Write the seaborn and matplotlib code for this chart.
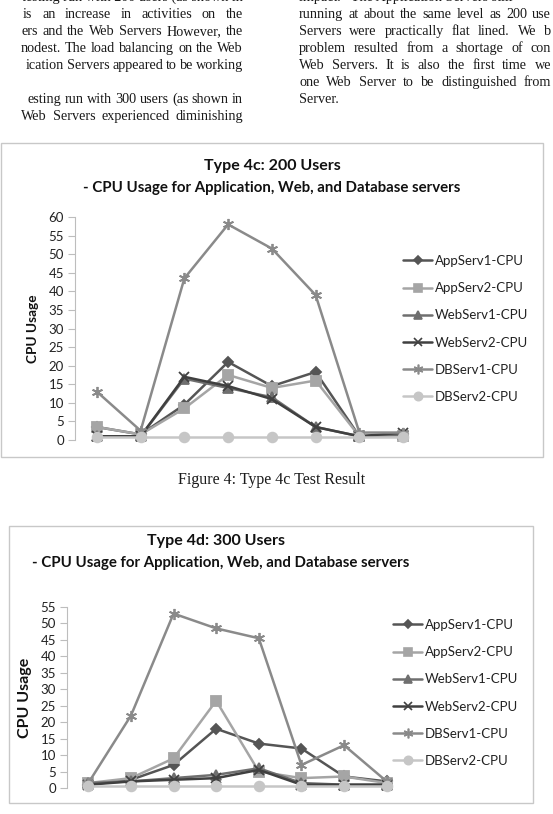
import pandas as pd
import matplotlib
matplotlib.use("Agg")
import matplotlib.pyplot as plt
from matplotlib.patches import Rectangle
import seaborn as sns

# ---- data ----
servers = ["AppServ1-CPU", "AppServ2-CPU", "WebServ1-CPU",
           "WebServ2-CPU", "DBServ1-CPU", "DBServ2-CPU"]
steps = [1, 2, 3, 4, 5, 6, 7, 8]

# Type 4c: 200 users
app1_200 = [3.5, 1.5, 9.5, 21.0, 14.5, 18.3, 1.0, 1.5]
app2_200 = [3.5, 1.5, 8.5, 17.5, 14.0, 16.0, 1.0, 1.0]
web1_200 = [1.0, 1.0, 16.5, 14.0, 11.5, 3.5, 1.0, 1.5]
web2_200 = [1.0, 1.0, 17.0, 14.5, 11.0, 3.5, 1.0, 2.0]
db1_200 = [13.0, 2.5, 43.5, 58.0, 51.5, 39.0, 2.0, 2.0]
db2_200 = [0.7, 0.7, 0.7, 0.7, 0.7, 0.7, 0.7, 0.7]

# Type 4d: 300 users
app1_300 = [1.0, 2.5, 7.0, 18.0, 13.5, 12.0, 3.5, 2.0]
app2_300 = [1.5, 3.0, 9.0, 26.5, 5.0, 3.0, 3.5, 1.5]
web1_300 = [1.5, 2.0, 3.0, 4.0, 6.0, 1.5, 1.0, 1.0]
web2_300 = [1.0, 2.0, 2.5, 3.0, 5.5, 1.0, 1.0, 1.0]
db1_300 = [1.5, 22.0, 53.0, 48.5, 45.5, 7.0, 13.0, 2.0]
db2_300 = [0.5, 0.5, 0.5, 0.5, 0.5, 0.5, 0.5, 0.5]

# page text around the charts (line text, left edge for justified lines)
left_top = "testing run with 200 users (as shown in"
left_lines = [("is an increase in activities on the", 23),
              ("ers and the Web Servers However, the", 21),
              ("nodest. The load balancing on the Web", 21),
              ("ication Servers appeared to be working", 28),
              (None, 0),
              ("esting run with 300 users (as shown in", 28),
              ("Web Servers experienced diminishing", 21)]
right_top = "impact.   The Application Servers still"
right_lines = [("running at about the same level as 200 use", True),
               ("Servers were practically flat lined. We b", True),
               ("problem resulted from a shortage of con", True),
               ("Web Servers. It is also the first time we", True),
               ("one Web Server to be distinguished from", True),
               ("Server.", False)]

palette = {"AppServ1-CPU": "#555555", "AppServ2-CPU": "#a5a5a5",
           "WebServ1-CPU": "#6f6f6f", "WebServ2-CPU": "#404040",
           "DBServ1-CPU": "#8a8a8a", "DBServ2-CPU": "#c6c6c6"}
markers = {"AppServ1-CPU": "D", "AppServ2-CPU": "s", "WebServ1-CPU": "^",
           "WebServ2-CPU": "x", "DBServ1-CPU": (6, 2, 0), "DBServ2-CPU": "o"}
msizes = {"AppServ1-CPU": 5, "AppServ2-CPU": 7, "WebServ1-CPU": 7,
          "WebServ2-CPU": 7, "DBServ1-CPU": 8, "DBServ2-CPU": 7}

W, H = 553, 814
BODY = dict(fontsize=10.2, family="Liberation Serif", color="#1a1a1a")
LINE0, LEAD = -3, 17.1


def fx(x):
    return x / W


def fy(y):
    return 1 - y / H


def long_frame(series):
    rows = []
    for name, vals in zip(servers, series):
        for s, v in zip(steps, vals):
            rows.append({"step": s, "server": name, "cpu": v})
    return pd.DataFrame(rows)


def justify(fig, renderer, text, x_left, x_right, y):
    """Spread the words of one line between x_left and x_right (pixels)."""
    words = text.split()
    items = [fig.text(0, fy(y), w, ha="left", va="center", **BODY) for w in words]
    widths = [t.get_window_extent(renderer).width for t in items]
    gap = (x_right - x_left - sum(widths)) / max(len(words) - 1, 1)
    if gap < 2.8:
        # too long to justify: keep normal spacing, flush right
        gap = 2.8
        x_left = x_right - sum(widths) - gap * (len(words) - 1)
    x = x_left
    for t, w in zip(items, widths):
        t.set_x(fx(x))
        x += w + gap


def draw_chart(fig, df, box, ax_px, ymax, title, sub, title_xy, sub_xy,
               ylab_xy, ylab_size, legend_xy):
    # chart frame
    x0, y0, x1, y1 = box
    fig.patches.append(Rectangle((fx(x0), fy(y1)), fx(x1) - fx(x0), fy(y0) - fy(y1),
                                 transform=fig.transFigure, fill=False,
                                 edgecolor="#c8c8c8", linewidth=1.0))
    l, t, r, b = ax_px
    ax = fig.add_axes([fx(l), fy(b), fx(r) - fx(l), fy(t) - fy(b)])
    ax.set_facecolor("none")

    # one call per server: seaborn won't mix filled and line-art markers
    for name in servers:
        sub_df = df[df["server"] == name]
        sns.lineplot(data=sub_df, x="step", y="cpu", color=palette[name],
                     marker=markers[name], markersize=msizes[name],
                     markeredgecolor=palette[name], markeredgewidth=1.3,
                     linewidth=1.8, ax=ax, clip_on=False)

    ax.set_xlim(0.5, 8.5)
    ax.set_ylim(0, ymax)
    ax.set_yticks(range(0, ymax + 1, 5))
    ax.set_xticks([])
    ax.set_xlabel("")
    ax.set_ylabel("")
    for side in ["top", "right", "bottom"]:
        ax.spines[side].set_visible(False)
    ax.spines["left"].set_color("#bdbdbd")
    ax.tick_params(axis="y", colors="#bdbdbd", labelcolor="#222222",
                   labelsize=9.5, length=5, pad=3, left=True)
    for lab in ax.get_yticklabels():
        lab.set_family("Lato")

    fig.text(fx(title_xy[0]), fy(title_xy[1]), title, ha="center", va="center",
             fontsize=11.5, fontweight="bold", family="Lato", color="#111111")
    fig.text(fx(sub_xy[0]), fy(sub_xy[1]), sub, ha="center", va="center",
             fontsize=10.8, fontweight="bold", family="Lato", color="#111111")
    fig.text(fx(ylab_xy[0]), fy(ylab_xy[1]), "CPU Usage", rotation=90,
             ha="center", va="center", fontsize=ylab_size, fontweight="bold",
             family="Lato", color="#111111")

    handles = []
    for name in servers:
        h, = ax.plot([], [], color=palette[name], marker=markers[name],
                     markersize=msizes[name] - 1, linewidth=1.8,
                     markeredgecolor=palette[name], markeredgewidth=1.2)
        handles.append(h)
    leg = fig.legend(handles, servers, loc="center left",
                     bbox_to_anchor=(fx(legend_xy[0]), fy(legend_xy[1])),
                     frameon=False, handlelength=2.2, handletextpad=0.2,
                     labelspacing=1.15, borderpad=0, borderaxespad=0,
                     prop={"family": "Lato", "size": 9.5})
    for txt in leg.get_texts():
        txt.set_color("#222222")
    return ax


sns.set_style("white")
plt.rcParams["font.family"] = ["Lato", "DejaVu Sans"]

fig = plt.figure(figsize=(W / 100, H / 100), dpi=100)
fig.patch.set_facecolor("white")
renderer = fig.canvas.get_renderer()

# two-column page text above the first chart (top line is cut by the page edge)
fig.text(fx(243), fy(LINE0), left_top, ha="right", va="center", **BODY)
fig.text(fx(299), fy(LINE0), right_top, ha="left", va="center", **BODY)
for i, (line, x_left) in enumerate(left_lines, start=1):
    if line:
        justify(fig, renderer, line, x_left, 243, LINE0 + LEAD * i)
for i, (line, full) in enumerate(right_lines, start=1):
    if full:
        justify(fig, renderer, line, 299, 551, LINE0 + LEAD * i)
    else:
        fig.text(fx(299), fy(LINE0 + LEAD * i), line, ha="left", va="center", **BODY)

df200 = long_frame([app1_200, app2_200, web1_200, web2_200, db1_200, db2_200])
df300 = long_frame([app1_300, app2_300, web1_300, web2_300, db1_300, db2_300])

draw_chart(fig, df200, box=(1, 143, 543, 457), ax_px=(75, 217, 425, 440),
           ymax=60, title="Type 4c: 200 Users",
           sub="- CPU Usage for Application, Web, and Database servers",
           title_xy=(272, 166), sub_xy=(272, 188), ylab_xy=(33, 329),
           ylab_size=9.8, legend_xy=(403, 329))

fig.text(fx(272), fy(480), "Figure 4: Type 4c Test Result", ha="center",
         va="center", fontsize=11.5, family="Liberation Serif", color="#1a1a1a")

draw_chart(fig, df300, box=(9, 526, 533, 803), ax_px=(67, 607, 408, 788),
           ymax=55, title="Type 4d: 300 Users",
           sub="- CPU Usage for Application, Web, and Database servers",
           title_xy=(216, 541), sub_xy=(221, 563), ylab_xy=(25, 698),
           ylab_size=11.5, legend_xy=(393, 693))

fig.savefig("out.png", dpi=100, facecolor="white")
